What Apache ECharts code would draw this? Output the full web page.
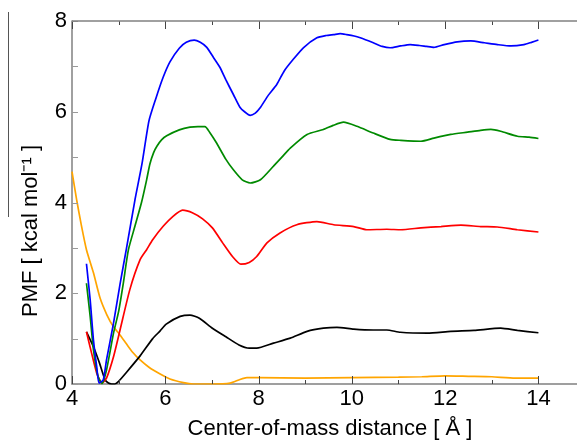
<!DOCTYPE html>
<html>
<head>
<meta charset="utf-8">
<script src="https://cdn.jsdelivr.net/npm/echarts@6/dist/echarts.min.js"></script>
<style>
html,body{margin:0;padding:0;background:#fff;}
#chart{width:577px;height:443px;}
</style>
</head>
<body>
<div id="chart"></div>
<script>
// ---- data ----
const xTickLabels = [4, 6, 8, 10, 12, 14];
const yTickLabels = [0, 2, 4, 6, 8];
const xTickValues = [4, 5, 6, 7, 8, 9, 10, 11, 12, 13, 14];
const yTickValues = [0, 1, 2, 3, 4, 5, 6, 7, 8];
const xTitle = 'Center-of-mass distance [ Å ]';
const yTitle = 'PMF [ kcal mol\u207B\u00B9 ]';

const blueX = [4.31,4.39,4.46,4.53,4.58,4.67,4.74,4.89,5.03,5.17,5.35,5.5,5.65,5.8,5.95,6.1,6.3,6.45,6.62,6.75,6.89,7.03,7.17,7.3,7.46,7.6,7.7,7.82,7.93,8.03,8.2,8.39,8.55,8.74,8.96,9.25,9.45,9.61,9.75,9.89,10.05,10.18,10.46,10.65,10.82,11.04,11.25,11.45,11.6,11.76,11.98,12.26,12.55,12.84,13.12,13.41,13.69,13.85,14.0];
const blueY = [2.65,1.85,0.97,0.38,0.02,0.09,0.53,1.34,2.2,3.0,4.06,4.85,5.8,6.3,6.75,7.1,7.4,7.53,7.58,7.53,7.42,7.2,6.98,6.7,6.38,6.1,6.0,5.92,5.97,6.08,6.35,6.6,6.9,7.15,7.41,7.63,7.68,7.7,7.72,7.7,7.67,7.63,7.52,7.44,7.41,7.45,7.48,7.46,7.44,7.42,7.48,7.54,7.56,7.52,7.48,7.45,7.48,7.53,7.58];

const greenX = [4.31,4.39,4.46,4.56,4.64,4.74,4.89,5.0,5.1,5.21,5.35,5.49,5.6,5.67,5.75,5.82,5.92,6.03,6.3,6.53,6.7,6.85,6.95,7.1,7.3,7.46,7.65,7.82,8.04,8.32,8.5,8.68,9.04,9.39,9.6,9.82,10.11,10.46,10.82,11.05,11.48,11.76,12.12,12.48,12.76,12.98,13.19,13.55,13.8,14.0];
const greenY = [2.22,1.49,0.75,0.16,0.01,0.31,1.12,1.6,2.22,2.96,3.48,4.0,4.5,4.85,5.1,5.24,5.38,5.47,5.6,5.66,5.67,5.67,5.55,5.31,4.95,4.72,4.5,4.43,4.5,4.8,5.0,5.2,5.5,5.61,5.7,5.77,5.68,5.53,5.39,5.37,5.35,5.42,5.5,5.55,5.59,5.61,5.57,5.46,5.44,5.41];

const redX = [4.31,4.42,4.53,4.64,4.74,4.89,5.03,5.24,5.46,5.6,5.73,5.95,6.16,6.37,6.59,6.8,7.01,7.23,7.44,7.62,7.8,7.96,8.18,8.46,8.82,9.25,9.61,10.04,10.32,10.75,11.05,11.48,11.91,12.34,12.76,13.12,13.55,14.0];
const redY = [1.15,0.68,0.24,0.02,0.13,0.6,1.19,2.08,2.74,2.96,3.18,3.47,3.69,3.83,3.77,3.64,3.44,3.11,2.81,2.64,2.68,2.81,3.11,3.33,3.51,3.58,3.51,3.47,3.4,3.41,3.4,3.44,3.47,3.5,3.47,3.46,3.4,3.35];

const blackX = [4.31,4.46,4.59,4.71,4.78,4.85,4.92,5.0,5.17,5.46,5.73,5.89,6.02,6.32,6.53,6.73,7.01,7.3,7.58,7.8,7.96,8.32,8.68,9.04,9.39,9.68,10.04,10.46,10.75,11.04,11.62,12.12,12.62,13.19,13.55,14.0];
const blackY = [1.15,0.82,0.46,0.09,0.02,0.0,0.0,0.06,0.26,0.62,1.0,1.17,1.32,1.49,1.52,1.45,1.23,1.04,0.86,0.79,0.79,0.9,1.01,1.16,1.23,1.25,1.21,1.19,1.19,1.14,1.12,1.16,1.18,1.23,1.18,1.13];

const orangeX = [4.0,4.1,4.2,4.31,4.46,4.6,4.75,4.89,5.03,5.17,5.3,5.46,5.65,5.89,6.1,6.39,6.6,7.0,7.39,7.6,7.75,8.0,9.0,10.0,11.0,11.5,12.0,12.5,13.0,13.5,14.0];
const orangeY = [4.68,4.06,3.5,2.96,2.45,1.9,1.52,1.26,1.08,0.88,0.7,0.53,0.37,0.22,0.11,0.03,0.0,0.0,0.02,0.1,0.14,0.14,0.13,0.14,0.15,0.16,0.18,0.17,0.16,0.13,0.13];

const seriesDefs = [
  {name: 'orange', xs: orangeX, ys: orangeY, color: '#ffa500'},
  {name: 'black',  xs: blackX,  ys: blackY,  color: '#000000'},
  {name: 'red',    xs: redX,    ys: redY,    color: '#ff0000'},
  {name: 'green',  xs: greenX,  ys: greenY,  color: '#008a00'},
  {name: 'blue',   xs: blueX,   ys: blueY,   color: '#0000ff'}
];

const FONT = 'Liberation Sans, Arial, Helvetica, sans-serif';
const AXIS_COLOR = '#808080';
const X_MIN = 4, X_MAX = 16, Y_MIN = 0, Y_MAX = 8;

function pairs(xs, ys) { return xs.map((x, i) => [x, ys[i]]); }
const snap = v => Math.round(v) + 0.5;

const chart = echarts.init(document.getElementById('chart'), null, {renderer: 'canvas'});

// tick marks on bottom and top edges, placed through the cartesian scale
function renderXTick(params, api) {
  const v = api.value(0);
  const pb = api.coord([v, Y_MIN]);
  const pt = api.coord([v, Y_MAX]);
  const len = xTickLabels.includes(v) ? 8 : 4;
  const x = snap(pb[0]);
  return {type: 'group', children: [
    {type: 'line', shape: {x1: x, y1: pb[1], x2: x, y2: pb[1] - len}, style: {stroke: '#444', lineWidth: 1}},
    {type: 'line', shape: {x1: x, y1: pt[1], x2: x, y2: pt[1] + len}, style: {stroke: '#444', lineWidth: 1}}
  ]};
}
function renderYTick(params, api) {
  const v = api.value(1);
  const p = api.coord([X_MIN, v]);
  const y = snap(p[1]);
  return {type: 'line', shape: {x1: p[0], y1: y, x2: p[0] + 6, y2: y}, style: {stroke: '#999', lineWidth: 1}};
}
function renderFrame(params, api) {
  const a = api.coord([X_MIN, Y_MAX]);
  const b = api.coord([X_MAX, Y_MAX]);
  return {type: 'line', shape: {x1: a[0], y1: a[1], x2: b[0], y2: b[1]}, style: {stroke: AXIS_COLOR, lineWidth: 1.5}};
}

// x axis runs 4..16; the part beyond ~14.8 falls outside the canvas, as in the reference
const option = {
  backgroundColor: '#ffffff',
  animation: false,
  grid: {left: 72, right: -54.7, top: 21, bottom: 59, containLabel: false, outerBoundsMode: 'none'},
  xAxis: {
    type: 'value', position: 'bottom', min: X_MIN, max: X_MAX, interval: 2,
    axisLine: {show: true, onZero: false, lineStyle: {color: AXIS_COLOR, width: 1.5}},
    axisTick: {show: false},
    axisLabel: {
      show: true, fontSize: 22, color: '#000', fontFamily: FONT, margin: 4,
      formatter: v => xTickLabels.includes(v) ? String(v) : ''
    },
    splitLine: {show: false}
  },
  yAxis: {
    type: 'value', min: Y_MIN, max: Y_MAX, interval: 2,
    axisLine: {show: true, lineStyle: {color: AXIS_COLOR, width: 1.5}},
    axisTick: {show: false},
    axisLabel: {
      fontSize: 22, color: '#000', fontFamily: FONT, margin: 5,
      formatter: v => yTickLabels.includes(v) ? String(v) : ''
    },
    splitLine: {show: false}
  },
  graphic: [
    {type: 'line', silent: true, shape: {x1: 8.5, y1: 12, x2: 8.5, y2: 217}, style: {stroke: '#555', lineWidth: 1}},
    {type: 'text', silent: true, x: 330, y: 429,
     style: {text: xTitle, fill: '#000', font: '22px ' + FONT, align: 'center', verticalAlign: 'middle'}},
    {type: 'text', silent: true, x: 31, y: 231, rotation: Math.PI / 2,
     style: {text: yTitle, fill: '#000', font: '22px ' + FONT, align: 'center', verticalAlign: 'middle'}}
  ],
  series: seriesDefs.map(s => ({
    name: s.name, type: 'line',
    data: pairs(s.xs, s.ys),
    showSymbol: false, symbol: 'none', smooth: 0.2,
    lineStyle: {color: s.color, width: 1.7},
    itemStyle: {color: s.color},
    clip: true
  })).concat([
    {type: 'custom', name: 'xticks', silent: true, clip: false, z: 5,
     data: xTickValues.map(v => [v, Y_MIN]), renderItem: renderXTick},
    {type: 'custom', name: 'yticks', silent: true, clip: false, z: 5,
     data: yTickValues.map(v => [X_MIN, v]), renderItem: renderYTick},
    {type: 'custom', name: 'frame', silent: true, clip: false, z: 5,
     data: [[X_MIN, Y_MAX]], renderItem: renderFrame}
  ])
};

chart.setOption(option);
</script>
</body>
</html>
